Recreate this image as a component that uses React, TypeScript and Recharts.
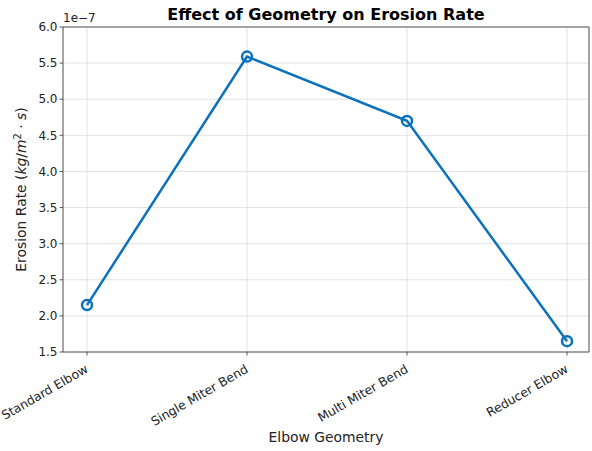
import React from "react";
import { LineChart, Line, XAxis, YAxis, CartesianGrid } from "recharts";

const categories = ["Standard Elbow", "Single Miter Bend", "Multi Miter Bend", "Reducer Elbow"];
const erosionRate = [2.15, 5.59, 4.7, 1.65]; // x 1e-7
const yTicks = [1.5, 2.0, 2.5, 3.0, 3.5, 4.0, 4.5, 5.0, 5.5, 6.0];

const data = categories.map((c, i) => ({ name: c, rate: erosionRate[i] }));

const FONT = "'DejaVu Sans', sans-serif";
const COLOR = "#0a72bd";

const XTick = (props: any) => {
  const { x, y, payload } = props;
  const ax = x + 2;
  const ay = y + 14;
  return (
    <text
      x={ax}
      y={ay}
      transform={`rotate(-30 ${ax} ${ay})`}
      textAnchor="end"
      fontFamily={FONT}
      fontSize={12.4}
      fill="#222"
    >
      {payload.value}
    </text>
  );
};

const YLabel = (props: any) => {
  const vb = props.viewBox || {};
  const cx = 26;
  const cy = vb.y + vb.height / 2;
  return (
    <text
      x={cx}
      y={cy}
      transform={`rotate(-90 ${cx} ${cy})`}
      textAnchor="middle"
      fontFamily={FONT}
      fontSize={13.9}
      fill="#222"
    >
      Erosion Rate (<tspan fontStyle="italic">kg</tspan>/<tspan fontStyle="italic">m</tspan>
      <tspan dy={-5} fontSize={9.7}>2</tspan>
      <tspan dy={5}> · </tspan>
      <tspan fontStyle="italic">s</tspan>)
    </text>
  );
};

export default function App() {
  return (
    <div style={{ position: "absolute", left: 0, top: 0, width: 592, height: 451, background: "#fff" }}>
      <svg style={{ position: "absolute", left: 0, top: 0, pointerEvents: "none" }} width={592} height={451}>
        <text x={326} y={20} textAnchor="middle" fontFamily={FONT} fontWeight="bold" fontSize={16} fill="#000">
          Effect of Geometry on Erosion Rate
        </text>
        <text x={63} y={22} textAnchor="start" fontFamily={FONT} fontSize={12} fill="#222">
          1e−7
        </text>
        <text x={326} y={442} textAnchor="middle" fontFamily={FONT} fontSize={13.9} fill="#222">
          Elbow Geometry
        </text>
      </svg>
      <LineChart
        width={592}
        height={451}
        data={data}
        margin={{ top: 27, right: 3, bottom: 19, left: 13 }}
      >
        <CartesianGrid stroke="#dcdcdc" strokeWidth={0.8} vertical={true} horizontal={true} />
        <XAxis
          dataKey="name"
          type="category"
          padding={{ left: 24, right: 22 }}
          height={80}
          tick={<XTick />}
          tickSize={3.5}
          tickLine={{ stroke: "#333", strokeWidth: 0.8 }}
          axisLine={{ stroke: "#333", strokeWidth: 0.8 }}
          interval={0}
        />
        <YAxis
          type="number"
          domain={[1.5, 6.0]}
          ticks={yTicks}
          width={50}
          tickSize={3.5}
          tickFormatter={(v: number) => v.toFixed(1)}
          tick={{ fontFamily: FONT, fontSize: 12, fill: "#222" }}
          tickLine={{ stroke: "#333", strokeWidth: 0.8 }}
          axisLine={{ stroke: "#333", strokeWidth: 0.8 }}
          label={<YLabel />}
          allowDataOverflow
        />
        <Line
          type="linear"
          dataKey="rate"
          stroke={COLOR}
          strokeWidth={2.5}
          dot={{ r: 5, stroke: COLOR, strokeWidth: 2.5, fill: "#fff", fillOpacity: 0 }}
          activeDot={false}
          isAnimationActive={false}
        />
      </LineChart>
      <svg style={{ position: "absolute", left: 0, top: 0, pointerEvents: "none" }} width={592} height={451}>
        <line x1={63} y1={27} x2={589} y2={27} stroke="#333" strokeWidth={0.8} />
        <line x1={589} y1={27} x2={589} y2={352} stroke="#333" strokeWidth={0.8} />
      </svg>
    </div>
  );
}
